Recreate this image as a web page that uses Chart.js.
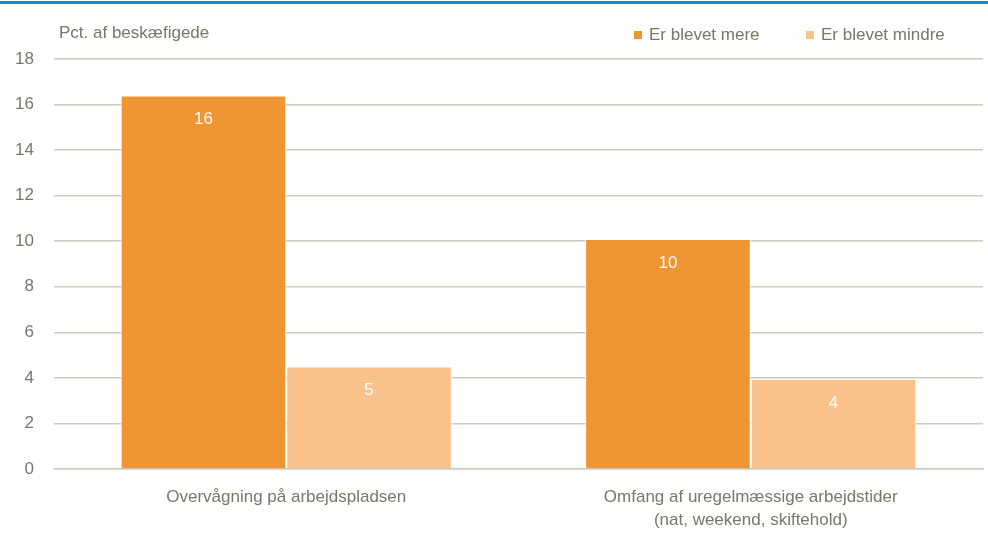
<!DOCTYPE html>
<html>
<head>
<meta charset="utf-8">
<script src="https://cdn.jsdelivr.net/npm/chart.js@4"></script>
<style>
  html, body { margin: 0; padding: 0; background: #fff; }
  #wrap { position: relative; width: 988px; height: 534px; }
</style>
</head>
<body>
<div id="wrap"><canvas id="myChart" width="988" height="534"></canvas></div>
<script>
// Kategorier og værdier
const categories = [
    'Overvågning på arbejdspladsen',
    ['Omfang af uregelmæssige arbejdstider', '(nat, weekend, skiftehold)']
];
const seriesNames = ['Er blevet mere', 'Er blevet mindre'];
const moreValues = [16.4, 10.1];
const lessValues = [4.5, 3.95];
const yTicks = [0, 2, 4, 6, 8, 10, 12, 14, 16, 18];
const yTitle = 'Pct. af beskæfigede';

const fontName = '"Liberation Sans Narrow", "Arial Narrow", "Liberation Sans", sans-serif';
const fontSize = 17;
const textColor = '#77776b';
const gridColor = '#cbcbc0';

// Blå streg i toppen, aksetitel og forklaring
const decorPlugin = {
    id: 'decor',
    beforeDraw(chart) {
        const ctx = chart.ctx;
        ctx.save();
        ctx.fillStyle = '#0a8fd0';
        ctx.fillRect(0, 1, chart.width, 3);
        ctx.fillStyle = textColor;
        ctx.font = fontSize + 'px ' + fontName;
        ctx.textBaseline = 'middle';
        ctx.textAlign = 'left';
        ctx.fillText(yTitle, 59, 33);

        // forklaring
        const legendX = [634, 806];
        chart.data.datasets.forEach((ds, i) => {
            ctx.fillStyle = ds.backgroundColor;
            ctx.fillRect(legendX[i], 31, 8, 8);
            ctx.fillStyle = textColor;
            ctx.fillText(ds.label, legendX[i] + 15, 35);
        });
        ctx.restore();
    }
};

// Værdier i søjlerne
const labelPlugin = {
    id: 'barLabels',
    afterDatasetsDraw(chart) {
        const ctx = chart.ctx;
        ctx.save();
        ctx.fillStyle = '#ffffff';
        ctx.font = fontSize + 'px ' + fontName;
        ctx.textAlign = 'center';
        ctx.textBaseline = 'middle';
        chart.data.datasets.forEach((ds, i) => {
            chart.getDatasetMeta(i).data.forEach((bar, j) => {
                ctx.fillText(Math.round(ds.data[j]), bar.x, bar.y + 24);
            });
        });
        ctx.restore();
    }
};

new Chart(document.getElementById('myChart').getContext('2d'), {
    type: 'bar',
    data: {
        labels: categories,
        datasets: [{
            label: seriesNames[0],
            data: moreValues,
            backgroundColor: '#f09533',
            borderColor: '#ffffff',
            borderWidth: 1
        }, {
            label: seriesNames[1],
            data: lessValues,
            backgroundColor: '#f9c28b',
            borderColor: '#ffffff',
            borderWidth: 1
        }]
    },
    options: {
        responsive: false,
        animation: false,
        layout: { padding: { left: 14, right: 5, top: 59, bottom: 4 } },
        categoryPercentage: 0.713,
        barPercentage: 1,
        plugins: {
            legend: { display: false },
            tooltip: { enabled: false }
        },
        scales: {
            x: {
                grid: { display: false, drawTicks: false },
                border: { color: gridColor, width: 1.5 },
                afterFit(axis) {
                    axis.height = 61;
                },
                ticks: {
                    color: textColor,
                    font: { family: fontName, size: fontSize, lineHeight: 1.35 },
                    maxRotation: 0,
                    autoSkip: false,
                    padding: 17
                }
            },
            y: {
                min: 0,
                max: 18,
                afterBuildTicks(axis) {
                    axis.ticks = yTicks.map(v => ({ value: v }));
                },
                afterFit(axis) {
                    axis.width = 40;
                },
                grid: { color: gridColor, lineWidth: 1.5, drawTicks: false },
                border: { display: false },
                ticks: {
                    color: textColor,
                    font: { family: fontName, size: fontSize },
                    padding: 20
                }
            }
        }
    },
    plugins: [decorPlugin, labelPlugin]
});
</script>
</body>
</html>
